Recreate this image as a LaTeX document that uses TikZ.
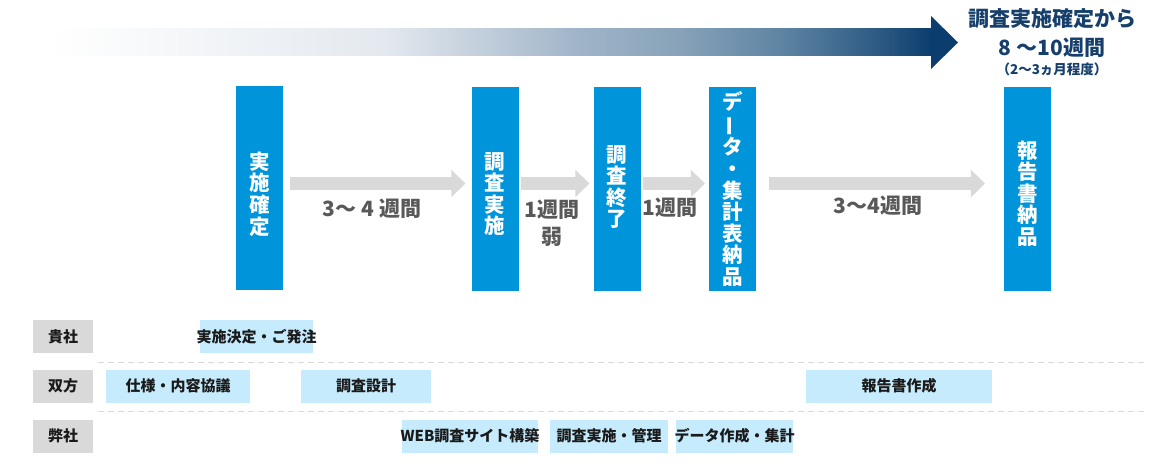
\documentclass[tikz,border=0pt]{standalone}
\usepackage{fontspec}
\setmainfont{Noto Sans CJK JP}
\usetikzlibrary{arrows.meta}
\definecolor{barblue}{HTML}{0095DB}
\definecolor{lblue}{HTML}{C6EBFC}
\definecolor{lgray}{HTML}{D9D9D9}
\definecolor{dgray}{HTML}{595959}
\definecolor{navy}{HTML}{0B3D6E}
\definecolor{navytext}{HTML}{163F6B}
\definecolor{txtblack}{HTML}{1A1A1A}
\definecolor{gA}{HTML}{E4E9EF}
\definecolor{gB}{HTML}{A0B4C8}
\definecolor{gC}{HTML}{87A2B9}
\definecolor{gD}{HTML}{5E84A3}
\definecolor{gE}{HTML}{2D5A84}
\newcommand{\tbx}[1]{\makebox[0pt][c]{#1}}
\pgfdeclarehorizontalshading{topgrad}{100bp}{%
  color(0bp)=(white); color(25bp)=(white);
  color(43.9bp)=(gA);
  color(55bp)=(gB);
  color(60.75bp)=(gC);
  color(66.5bp)=(gD);
  color(72bp)=(gE);
  color(75bp)=(navy); color(100bp)=(navy)}
\tikzset{
  bar/.style={fill=barblue, minimum width=47pt, minimum height=203pt, inner sep=0pt},
  bartext/.style={text=white, align=center, inner sep=0pt,
    font=\fontsize{20.5}{21.6}\selectfont\bfseries},
  garrow/.style={draw=lgray, line width=13pt,
    -{Triangle[length=14pt,width=27pt]}},
  durlabel/.style={text=dgray, align=center, font=\fontsize{21}{27}\selectfont\bfseries},
  rowlabel/.style={fill=lgray, minimum width=60pt, minimum height=33pt, inner sep=0pt,
    text=txtblack, font=\fontsize{15}{15}\selectfont\bfseries},
  taskbox/.style={fill=lblue, minimum height=33pt, inner sep=0pt,
    text=txtblack, font=\fontsize{15}{15}\selectfont\bfseries},
  rowsep/.style={draw=lgray, line width=1pt, dash pattern=on 6pt off 4pt},
  title/.style={text=navytext, font=\fontsize{21}{21}\selectfont\bfseries}
}
\begin{document}
\begin{tikzpicture}[x=1pt,y=-1pt]
\useasboundingbox (0,0) rectangle (1150,468);
% gradient timeline arrow
\shade[shading=topgrad] (50,29) rectangle (931.5,56);
\fill[navy] (931,16) -- (958,42.5) -- (931,69) -- cycle;
\node[title] (t1) at (1052,19) {調査実施確定から};
\node[title] (t2) at (1052,48) {8 〜10週間};
\node[text=navytext, font=\fontsize{13.5}{13.5}\selectfont\bfseries] (t3) at (1052,69) {（2〜3ヵ月程度）};
% milestone bars
\node[bar] (b1) at (259.5,188) {};
\node[bar] (b2) at (495,189) {};
\node[bar] (b3) at (617,189) {};
\node[bar] (b4) at (732.5,189) {};
\node[bar] (b5) at (1027.5,189) {};
\node[bartext] (b1t) at ([yshift=-6pt]b1.center) {実\\施\\確\\定};
\node[bartext] (b2t) at ([yshift=-5pt]b2.center) {調\\査\\実\\施};
\node[bartext] (b3t) at ([yshift=2pt]b3.center) {調\\査\\終\\了};
\node[bartext] (b4t) at ([yshift=0pt]b4.center) {デ\\\rotatebox[origin=c]{90}{ー}\\タ\\・\\集\\計\\表\\納\\品};
\node[bartext] (b5t) at ([yshift=-4.5pt]b5.center) {報\\告\\書\\納\\品};
% gray arrows
\draw[garrow] ([xshift=7pt,yshift=4.5pt]b1.east) -- ([xshift=-6pt,yshift=5.5pt]b2.west);
\draw[garrow] ([xshift=2pt,yshift=5.5pt]b2.east) -- ([xshift=-4pt,yshift=5.5pt]b3.west);
\draw[garrow] ([xshift=2pt,yshift=5.5pt]b3.east) -- ([xshift=-4pt,yshift=5.5pt]b4.west);
\draw[garrow] ([xshift=13pt,yshift=5.5pt]b4.east) -- ([xshift=-19pt,yshift=5.5pt]b5.west);
% duration labels
\node[durlabel] (d1) at (372,209) {3〜 4 週間};
\node[durlabel] (d2) at (552,223) {1週間\\弱};
\node[durlabel] (d3) at (670,208) {1週間};
\node[durlabel] (d4) at (878,206) {3〜4週間};
% rows
\node[rowlabel] (r1) at (63,336.5) {貴社};
\node[rowlabel] (r2) at (63,386) {双方};
\node[rowlabel] (r3) at (63,436) {弊社};
\coordinate (s1a) at (98,362);
\coordinate (s1b) at (1144,362);
\coordinate (s2a) at (98,411);
\coordinate (s2b) at (1144,411);
\draw[rowsep] (s1a) -- (s1b);
\draw[rowsep] (s2a) -- (s2b);
% tasks
\node[taskbox, minimum width=113pt] (k1) at (256.5,336.5) {\tbx{実施決定・ご発注}};
\node[taskbox, minimum width=144pt] (k2) at (178,386) {\tbx{仕様・内容協議}};
\node[taskbox, minimum width=130pt] (k3) at (366,386) {\tbx{調査設計}};
\node[taskbox, minimum width=186pt] (k4) at (899,386) {\tbx{報告書作成}};
\node[taskbox, minimum width=136pt] (k5) at (470,436) {\tbx{WEB調査サイト構築}};
\node[taskbox, minimum width=118pt] (k6) at (609,436) {\tbx{調査実施・管理}};
\node[taskbox, minimum width=117pt] (k7) at (734.5,436) {\tbx{データ作成・集計}};
\end{tikzpicture}
\end{document}
